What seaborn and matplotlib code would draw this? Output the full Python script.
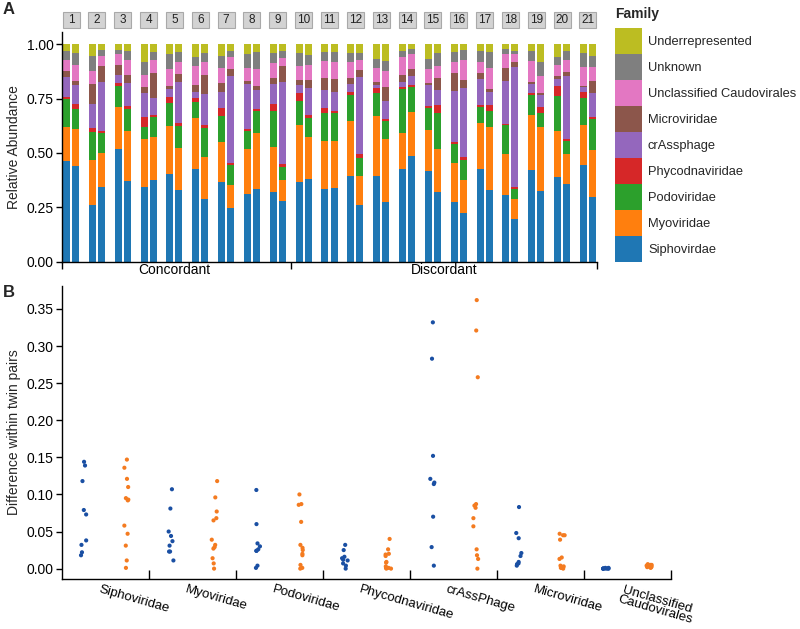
import numpy as np
import pandas as pd
import matplotlib
matplotlib.use("Agg")
import matplotlib.pyplot as plt
import matplotlib.transforms as mtransforms
from matplotlib.patches import Rectangle, Patch
import seaborn as sns

# ---------------- Panel A data: cumulative tops of each family (stack order bottom->top)
pairs = [str(i) for i in range(1, 22)]
groups = ["Concordant", "Discordant"]
families = ["Siphovirdae", "Myoviridae", "Podoviridae", "Phycodnaviridae", "crAssphage",
            "Microviridae", "Unclassified Caudovirales", "Unknown", "Underrepresented"]

top_sipho = [0.463, 0.442, 0.261, 0.344, 0.518, 0.373, 0.342, 0.376, 0.405, 0.330, 0.426, 0.288,
             0.368, 0.248, 0.310, 0.334, 0.319, 0.279, 0.365, 0.379, 0.334, 0.337, 0.396, 0.259,
             0.396, 0.276, 0.426, 0.485, 0.417, 0.322, 0.275, 0.225, 0.425, 0.331, 0.305, 0.196,
             0.423, 0.327, 0.388, 0.356, 0.443, 0.296]
top_myo = [0.620, 0.610, 0.468, 0.498, 0.713, 0.601, 0.563, 0.575, 0.624, 0.525, 0.663, 0.483,
           0.552, 0.353, 0.520, 0.590, 0.528, 0.376, 0.629, 0.575, 0.555, 0.557, 0.649, 0.394,
           0.670, 0.564, 0.594, 0.690, 0.604, 0.518, 0.452, 0.376, 0.637, 0.620, 0.494, 0.287,
           0.675, 0.621, 0.601, 0.497, 0.629, 0.514]
top_podo = [0.747, 0.704, 0.597, 0.590, 0.810, 0.704, 0.621, 0.664, 0.729, 0.626, 0.735, 0.617,
            0.672, 0.445, 0.601, 0.695, 0.693, 0.437, 0.741, 0.663, 0.686, 0.686, 0.768, 0.479,
            0.778, 0.646, 0.796, 0.804, 0.706, 0.684, 0.540, 0.469, 0.712, 0.693, 0.629, 0.334,
            0.767, 0.684, 0.762, 0.557, 0.752, 0.658]
top_phyco = [0.758, 0.725, 0.617, 0.600, 0.824, 0.716, 0.667, 0.675, 0.756, 0.637, 0.755, 0.629,
             0.706, 0.452, 0.612, 0.704, 0.724, 0.449, 0.775, 0.675, 0.706, 0.695, 0.781, 0.495,
             0.799, 0.658, 0.805, 0.811, 0.715, 0.719, 0.551, 0.480, 0.721, 0.721, 0.635, 0.342,
             0.776, 0.712, 0.808, 0.564, 0.779, 0.667]
top_crass = [0.850, 0.813, 0.727, 0.828, 0.859, 0.824, 0.775, 0.752, 0.793, 0.828, 0.779, 0.771,
             0.782, 0.856, 0.816, 0.788, 0.819, 0.828, 0.813, 0.801, 0.790, 0.779, 0.817, 0.851,
             0.811, 0.741, 0.828, 0.854, 0.811, 0.788, 0.784, 0.801, 0.840, 0.782, 0.830, 0.894,
             0.819, 0.765, 0.840, 0.853, 0.802, 0.775]
top_micro = [0.876, 0.833, 0.818, 0.900, 0.905, 0.859, 0.802, 0.867, 0.808, 0.864, 0.814, 0.859,
             0.821, 0.885, 0.831, 0.810, 0.845, 0.899, 0.836, 0.836, 0.844, 0.839, 0.847, 0.880,
             0.827, 0.805, 0.857, 0.888, 0.824, 0.844, 0.867, 0.836, 0.870, 0.793, 0.893, 0.919,
             0.828, 0.775, 0.853, 0.871, 0.810, 0.831]
top_unclass = [0.928, 0.905, 0.879, 0.946, 0.955, 0.928, 0.859, 0.928, 0.885, 0.920, 0.902, 0.917,
               0.893, 0.942, 0.893, 0.887, 0.916, 0.939, 0.902, 0.905, 0.923, 0.917, 0.917, 0.926,
               0.890, 0.879, 0.940, 0.955, 0.888, 0.900, 0.919, 0.926, 0.920, 0.890, 0.955, 0.955,
               0.923, 0.856, 0.906, 0.928, 0.897, 0.897]
top_unknown = [0.969, 0.960, 0.946, 0.974, 0.974, 0.971, 0.920, 0.965, 0.954, 0.965, 0.943, 0.959,
               0.946, 0.971, 0.955, 0.965, 0.962, 0.969, 0.962, 0.951, 0.966, 0.966, 0.962, 0.962,
               0.934, 0.922, 0.971, 0.980, 0.931, 0.959, 0.963, 0.972, 0.968, 0.965, 0.979, 0.971,
               0.968, 0.920, 0.943, 0.971, 0.959, 0.946]
top_underrep = [1.0] * 42

# ---------------- Panel B data: within-pair differences
diff_families = ["Siphoviridae", "Myoviridae", "Podoviridae", "Phycodnaviridae",
                 "crAssPhage", "Microviridae", "Unclassified\nCaudovirales"]
conc_sipho = [0.144, 0.139, 0.118, 0.079, 0.073, 0.038, 0.032, 0.022, 0.018]
conc_myo = [0.107, 0.081, 0.050, 0.044, 0.037, 0.031, 0.023, 0.023, 0.011]
conc_podo = [0.106, 0.060, 0.034, 0.030, 0.026, 0.024, 0.024, 0.004, 0.001]
conc_phyco = [0.032, 0.025, 0.016, 0.014, 0.012, 0.011, 0.007, 0.004, 0.000]
conc_crass = [0.332, 0.283, 0.152, 0.121, 0.116, 0.114, 0.070, 0.029, 0.004]
conc_micro = [0.083, 0.048, 0.041, 0.021, 0.017, 0.009, 0.007, 0.006, 0.004]
conc_unclass = [0.001, 0.001, 0.000, 0.000, 0.000, 0.000, 0.000, 0.000, 0.000]

disc_sipho = [0.147, 0.136, 0.121, 0.110, 0.095, 0.093, 0.092, 0.058, 0.047, 0.031, 0.011, 0.001]
disc_myo = [0.118, 0.096, 0.077, 0.068, 0.065, 0.039, 0.032, 0.029, 0.027, 0.014, 0.007, 0.000]
disc_podo = [0.100, 0.087, 0.086, 0.063, 0.032, 0.028, 0.025, 0.020, 0.018, 0.005, 0.001, 0.000]
disc_phyco = [0.040, 0.026, 0.020, 0.019, 0.017, 0.009, 0.008, 0.003, 0.001, 0.001, 0.000, 0.000]
disc_crass = [0.362, 0.321, 0.258, 0.087, 0.085, 0.082, 0.068, 0.057, 0.026, 0.018, 0.013, 0.000]
disc_micro = [0.047, 0.045, 0.045, 0.039, 0.015, 0.013, 0.004, 0.003, 0.002, 0.001, 0.001, 0.000]
disc_unclass = [0.006, 0.005, 0.005, 0.004, 0.004, 0.003, 0.003, 0.003, 0.002, 0.002, 0.002, 0.001]

# ---------------- style
sns.set_theme(style="ticks")
plt.rcParams["font.family"] = ["Liberation Sans", "DejaVu Sans"]
plt.rcParams["axes.linewidth"] = 1.0
plt.rcParams["xtick.major.width"] = 1.0
plt.rcParams["ytick.major.width"] = 1.0
plt.rcParams["xtick.color"] = "black"
plt.rcParams["ytick.color"] = "black"
plt.rcParams["axes.edgecolor"] = "black"

fam_colors = sns.color_palette("tab10", 9)
W, H = 800, 629
fig = plt.figure(figsize=(W / 100, H / 100), dpi=100)

# ================= Panel A =================
axA = fig.add_axes([62 / W, 1 - 262 / H, (597 - 62) / W, (262 - 32) / H])
tops = [top_sipho, top_myo, top_podo, top_phyco, top_crass, top_micro,
        top_unclass, top_unknown, top_underrep]
cum = np.vstack([np.zeros(42)] + [np.array(t) for t in tops])
xpos = np.array([i + off for i in range(21) for off in (-0.175, 0.175)])
for k, fam in enumerate(families):
    axA.bar(xpos, cum[k + 1] - cum[k], bottom=cum[k], width=0.27,
            color=fam_colors[k], linewidth=0, label=fam)

axA.set_xlim(-0.35, 20.35)
axA.set_ylim(-0.002, 1.057)
axA.set_yticks([0, 0.25, 0.5, 0.75, 1.0])
axA.set_yticklabels(["0.00", "0.25", "0.50", "0.75", "1.00"], fontsize=10)
axA.tick_params(axis="y", direction="out", length=4, pad=2)
axA.set_xticks([-0.35, 8.5, 20.35])
axA.set_xticklabels([])
axA.tick_params(axis="x", which="major", direction="out", length=5)
axA.set_xticks([4.0, 14.43], minor=True)
axA.set_xticklabels(groups, minor=True, fontsize=10)
axA.tick_params(axis="x", which="minor", length=0, pad=1)
axA.set_ylabel("Relative Abundance", fontsize=10, labelpad=4)
for s in ["top", "right"]:
    axA.spines[s].set_visible(False)

# strip labels (pair numbers)
trans = mtransforms.blended_transform_factory(axA.transData, axA.transAxes)
for i, p in enumerate(pairs):
    axA.add_patch(Rectangle((i - 0.33, 1.016), 0.66, 0.072, transform=trans,
                            facecolor="#d3d3d3", edgecolor="#a9a9a9", linewidth=0.8,
                            clip_on=False))
    axA.text(i, 1.052, p, transform=trans, ha="center", va="center",
             fontsize=8.5, color="#222222", clip_on=False)

# legend (top entry first)
handles = [Patch(facecolor=fam_colors[k], edgecolor="none") for k in range(9)][::-1]
labels = families[::-1]
fig.text(615 / W, 1 - 7 / H, "Family", fontsize=10, fontweight="bold", ha="left", va="top")
fig.legend(handles, labels, loc="upper left",
           bbox_to_anchor=(615 / W, 1 - 28 / H), frameon=False, fontsize=9.3,
           handlelength=2.1, handleheight=2.72, labelspacing=0.0,
           handletextpad=0.45, borderpad=0, borderaxespad=0)

# ================= Panel B =================
axB = fig.add_axes([62 / W, 1 - 579 / H, (671 - 62) / W, (579 - 286) / H])
conc_lists = [conc_sipho, conc_myo, conc_podo, conc_phyco, conc_crass, conc_micro, conc_unclass]
disc_lists = [disc_sipho, disc_myo, disc_podo, disc_phyco, disc_crass, disc_micro, disc_unclass]
rows = []
for fam, c, d in zip(diff_families, conc_lists, disc_lists):
    rows += [(fam, "Concordant", v) for v in c]
    rows += [(fam, "Discordant", v) for v in d]
df = pd.DataFrame(rows, columns=["family", "group", "diff"])

np.random.seed(3)
sns.stripplot(data=df, x="family", y="diff", hue="group", order=diff_families,
              hue_order=groups, palette=["#1a4fa3", "#f47b20"], dodge=True,
              jitter=0.07, size=3.0, linewidth=0, legend=False, ax=axB)
# widen the dodge spacing to match the reference
for coll in axB.collections:
    off = coll.get_offsets()
    if len(off):
        off = np.array(off)
        side = np.sign(off[:, 0] - np.round(off[:, 0]))
        off[:, 0] += side * 0.05
        coll.set_offsets(off)

axB.set_xlim(-0.5, 6.5)
axB.set_ylim(-0.014, 0.381)
yt = np.arange(0, 0.351, 0.05)
axB.set_yticks(yt)
axB.set_yticklabels([f"{v:.2f}" for v in yt], fontsize=10)
axB.tick_params(axis="y", direction="out", length=4, pad=2)
axB.set_xticks(np.arange(0.5, 7, 1.0))
axB.set_xticklabels([])
axB.tick_params(axis="x", which="major", direction="in", length=6.5)
axB.set_xticks(np.arange(7) - 0.06, minor=True)
axB.set_xticklabels(diff_families, minor=True, fontsize=9.5, rotation=-16,
                    ha="left", va="top", rotation_mode="anchor", linespacing=0.82,
                    multialignment="center")
axB.tick_params(axis="x", which="minor", length=0, pad=3)
axB.set_xlabel("")
axB.set_ylabel("Difference within twin pairs", fontsize=10, labelpad=4)
for s in ["top", "right"]:
    axB.spines[s].set_visible(False)

fig.text(3 / W, 1 - 2 / H, "A", fontsize=12, fontweight="bold", ha="left", va="top")
fig.text(3 / W, 1 - 285 / H, "B", fontsize=12, fontweight="bold", ha="left", va="top")

fig.savefig("out.png", dpi=100)
